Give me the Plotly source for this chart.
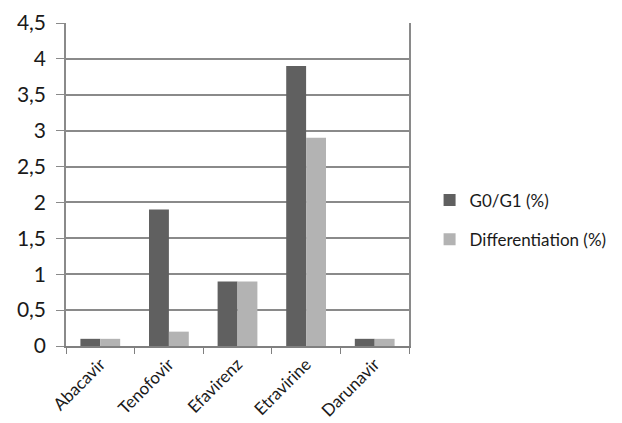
import plotly.graph_objects as go

categories = ["Abacavir", "Tenofovir", "Efavirenz", "Etravirine", "Darunavir"]
g0g1 = [0.1, 1.9, 0.9, 3.9, 0.1]
differentiation = [0.1, 0.2, 0.9, 2.9, 0.1]
series_names = ["G0/G1 (%)", "Differentiation (%)"]

FONT = "Lato"
fig = go.Figure()
fig.add_trace(go.Bar(x=categories, y=g0g1, name=series_names[0],
                     marker=dict(color="#606060", line=dict(width=0)),
                     legendgroup="a"))
fig.add_trace(go.Bar(x=categories, y=differentiation, name=series_names[1],
                     marker=dict(color="#b3b3b3", line=dict(width=0)),
                     legendgroup="b"))

fig.update_layout(
    width=622, height=423,
    margin=dict(l=58, r=221, t=15, b=85, autoexpand=False),
    paper_bgcolor="white", plot_bgcolor="white",
    separators=",.",
    barmode="group", bargap=0.42, bargroupgap=0,
    font=dict(family=FONT, color="#1a1a1a"),
    legend=dict(x=1.06, y=0.39, xanchor="left", yanchor="middle",
                font=dict(size=17, family=FONT, color="#1a1a1a"),
                tracegroupgap=14, itemwidth=30),
    xaxis=dict(showgrid=False, showline=True, linecolor="#808080", linewidth=1.5,
               ticks="outside", tickson="boundaries", ticklen=6, tickcolor="#808080",
               tickangle=-45, tickfont=dict(size=17, family=FONT), automargin=False),
    yaxis=dict(range=[0, 4.5], dtick=0.5, showgrid=True, gridcolor="#8a8a8a", gridwidth=1.5,
               showline=True, mirror=True, linecolor="#8a8a8a", linewidth=1.5,
               ticks="outside", ticklen=8, tickcolor="#8a8a8a",
               tickfont=dict(size=21, family=FONT), ticklabelstandoff=6,
               zeroline=False, automargin=False),
)
fig.write_html("out.html")
